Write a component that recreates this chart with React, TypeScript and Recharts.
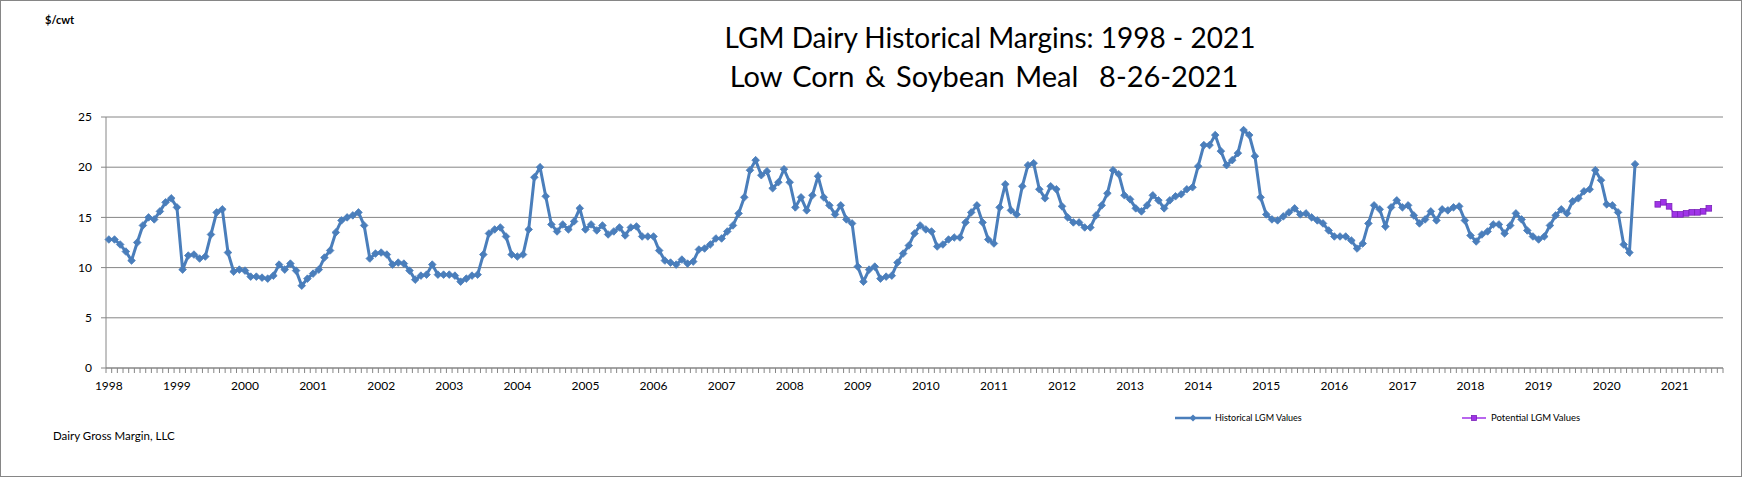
import React from "react";
import { ComposedChart, Line, XAxis, YAxis, CartesianGrid, Legend } from "recharts";

// ---------- data ----------
const startYear = 1998;
const monthCount = 285; // Jan 1998 .. Sep 2021
const yTicks = [0, 5, 10, 15, 20, 25];

// Historical LGM margin values ($/cwt), monthly from Jan 1998
const historicalValues = [
  // 1998
  12.8, 12.8, 12.3, 11.6, 10.7, 12.5, 14.2, 15.0, 14.8, 15.6, 16.5, 16.9,
  // 1999
  16.0, 9.8, 11.2, 11.3, 10.9, 11.1, 13.3, 15.5, 15.8, 11.5, 9.6, 9.8,
  // 2000
  9.7, 9.1, 9.1, 9.0, 8.9, 9.2, 10.3, 9.8, 10.4, 9.7, 8.2, 8.9,
  // 2001
  9.4, 9.8, 11.0, 11.7, 13.5, 14.7, 15.0, 15.2, 15.5, 14.2, 10.9, 11.4,
  // 2002
  11.5, 11.3, 10.3, 10.5, 10.4, 9.7, 8.8, 9.2, 9.3, 10.3, 9.3, 9.3,
  // 2003
  9.3, 9.2, 8.6, 8.9, 9.2, 9.3, 11.3, 13.4, 13.8, 14.0, 13.1, 11.3,
  // 2004
  11.1, 11.3, 13.8, 19.0, 20.0, 17.1, 14.3, 13.6, 14.3, 13.8, 14.6, 15.9,
  // 2005
  13.8, 14.3, 13.7, 14.2, 13.3, 13.6, 14.0, 13.2, 14.0, 14.1, 13.1, 13.1,
  // 2006
  13.1, 11.7, 10.7, 10.5, 10.3, 10.8, 10.4, 10.6, 11.8, 11.9, 12.3, 12.9,
  // 2007
  12.9, 13.6, 14.2, 15.4, 17.0, 19.7, 20.7, 19.2, 19.6, 17.9, 18.5, 19.8,
  // 2008
  18.5, 16.0, 17.0, 15.7, 17.2, 19.1, 17.0, 16.2, 15.3, 16.2, 14.8, 14.4,
  // 2009
  10.1, 8.6, 9.8, 10.1, 8.9, 9.1, 9.2, 10.5, 11.4, 12.2, 13.4, 14.2,
  // 2010
  13.8, 13.6, 12.1, 12.3, 12.8, 13.0, 13.0, 14.5, 15.5, 16.2, 14.5, 12.8,
  // 2011
  12.4, 16.0, 18.3, 15.7, 15.3, 18.1, 20.2, 20.4, 17.8, 16.9, 18.1, 17.8,
  // 2012
  16.1, 15.0, 14.5, 14.5, 14.0, 14.0, 15.2, 16.2, 17.4, 19.7, 19.3, 17.2,
  // 2013
  16.8, 15.9, 15.6, 16.2, 17.2, 16.7, 15.9, 16.7, 17.1, 17.3, 17.8, 18.0,
  // 2014
  20.1, 22.2, 22.2, 23.2, 21.6, 20.2, 20.7, 21.4, 23.7, 23.2, 21.1, 17.0,
  // 2015
  15.3, 14.8, 14.7, 15.1, 15.5, 15.9, 15.3, 15.4, 15.0, 14.7, 14.4, 13.7,
  // 2016
  13.1, 13.1, 13.1, 12.7, 11.9, 12.4, 14.4, 16.2, 15.8, 14.1, 16.0, 16.7,
  // 2017
  16.0, 16.2, 15.2, 14.4, 14.8, 15.6, 14.7, 15.8, 15.7, 16.0, 16.1, 14.7,
  // 2018
  13.2, 12.6, 13.3, 13.6, 14.3, 14.3, 13.4, 14.2, 15.4, 14.8, 13.7, 13.1,
  // 2019
  12.8, 13.1, 14.2, 15.2, 15.8, 15.4, 16.6, 16.9, 17.6, 17.8, 19.7, 18.7,
  // 2020 (Jan - Jun)
  16.3, 16.2, 15.5, 12.3, 11.5, 20.3,
];

// Potential LGM values, monthly from Oct 2020
const potentialStartIndex = 273; // Oct 2020
const potentialValues = [16.3, 16.5, 16.1, 15.3, 15.3, 15.4, 15.5, 15.5, 15.6, 15.9];

const chartData = Array.from({ length: monthCount }, (_, i) => ({
  idx: i,
  year: startYear + Math.floor(i / 12),
  hist: i < historicalValues.length ? historicalValues[i] : null,
  pot:
    i >= potentialStartIndex && i < potentialStartIndex + potentialValues.length
      ? potentialValues[i - potentialStartIndex]
      : null,
}));

// ---------- layout ----------
const W = 1742;
const H = 477;
const MARGIN = { top: 117, right: 19, bottom: 79, left: 46 };
const Y_AXIS_W = 60;
const X_AXIS_H = 30;
const PLOT_W = W - MARGIN.left - MARGIN.right - Y_AXIS_W;
const BAND = PLOT_W / monthCount;

const FONT = "Lato, 'Open Sans', 'DejaVu Sans', sans-serif";
const BLUE = "#4A7EBB";
const PURPLE = "#A033E8";
const PURPLE_EDGE = "#7A22B8";
const GRID = "#868686";

const Diamond = (props: any) => {
  const { cx, cy, index } = props;
  if (cx == null || cy == null) return <g key={`d${index}`} />;
  const r = 3.8;
  return (
    <polygon
      key={`d${index}`}
      points={`${cx},${cy - r} ${cx + r},${cy} ${cx},${cy + r} ${cx - r},${cy}`}
      fill={BLUE}
      stroke={BLUE}
      strokeWidth={0.8}
    />
  );
};

const Square = (props: any) => {
  const { cx, cy, index } = props;
  if (cx == null || cy == null) return <g key={`s${index}`} />;
  const r = 2.8;
  return (
    <rect
      key={`s${index}`}
      x={cx - r}
      y={cy - r}
      width={2 * r}
      height={2 * r}
      fill={PURPLE}
      stroke={PURPLE_EDGE}
      strokeWidth={0.8}
    />
  );
};

const XTick = (props: any) => {
  const { x, y, payload } = props;
  const i = payload.value as number;
  const left = x - BAND / 2;
  return (
    <g>
      <line x1={left} x2={left} y1={y} y2={y + 5} stroke={GRID} strokeWidth={1} />
      {i === monthCount - 1 && (
        <line x1={x + BAND / 2} x2={x + BAND / 2} y1={y} y2={y + 5} stroke={GRID} strokeWidth={1} />
      )}
      {i % 12 === 0 && (
        <text x={x} y={y + 22} textAnchor="middle" fontSize={12} fontFamily={FONT} fill="#000">
          {startYear + i / 12}
        </text>
      )}
    </g>
  );
};

const LegendContent = () => (
  <svg width={470} height={20}>
    <line x1={5} x2={41} y1={10} y2={10} stroke={BLUE} strokeWidth={2.5} />
    <polygon points="23,6.5 26.5,10 23,13.5 19.5,10" fill={BLUE} />
    <text x={45} y={13} fontSize={9} fontFamily={FONT} fill="#000">
      Historical LGM Values
    </text>
    <line x1={292} x2={316} y1={10} y2={10} stroke={PURPLE} strokeWidth={1.5} />
    <rect x={301.5} y={7.5} width={5} height={5} fill={PURPLE} stroke={PURPLE_EDGE} strokeWidth={0.8} />
    <text x={321} y={13} fontSize={9.5} fontFamily={FONT} fill="#000">
      Potential LGM Values
    </text>
  </svg>
);

export default function App() {
  return (
    <div
      style={{
        position: "absolute",
        left: 0,
        top: 0,
        width: W,
        height: H,
        background: "#fff",
        fontFamily: FONT,
        boxSizing: "border-box",
        border: `1px solid ${GRID}`,
        overflow: "hidden",
      }}
    >
      <div style={{ position: "absolute", left: 44, top: 12, fontSize: 11, fontWeight: 700, color: "#000" }}>
        $/cwt
      </div>
      <div
        style={{
          position: "absolute",
          left: 0,
          width: 1978,
          top: 20,
          textAlign: "center",
          fontSize: 28,
          lineHeight: "32px",
          color: "#000",
        }}
      >
        LGM Dairy Historical Margins: 1998 - 2021
      </div>
      <div
        style={{
          position: "absolute",
          left: 0,
          width: 1966,
          top: 59,
          textAlign: "center",
          fontSize: 29,
          lineHeight: "32px",
          color: "#000",
          whiteSpace: "pre",
          wordSpacing: 3,
        }}
      >
        {"Low Corn & Soybean Meal  8-26-2021"}
      </div>
      <div style={{ position: "absolute", left: 52, top: 428, fontSize: 11.5, color: "#000" }}>
        Dairy Gross Margin, LLC
      </div>
      <div style={{ position: "absolute", left: -1, top: -1 }}>
        <ComposedChart width={W} height={H} data={chartData} margin={MARGIN}>
          <CartesianGrid horizontal vertical={false} stroke={GRID} strokeWidth={1} />
          <XAxis
            dataKey="idx"
            type="category"
            scale="band"
            interval={0}
            height={X_AXIS_H}
            axisLine={{ stroke: GRID, strokeWidth: 1 }}
            tickLine={false}
            tickSize={0}
            tickMargin={0}
            tick={<XTick />}
          />
          <YAxis
            domain={[0, 25]}
            ticks={yTicks}
            width={Y_AXIS_W}
            axisLine={{ stroke: GRID, strokeWidth: 1 }}
            tickLine={{ stroke: GRID, strokeWidth: 1 }}
            tickSize={5}
            tickMargin={9}
            tick={{ fontSize: 12, fontFamily: FONT, fill: "#000" }}
            interval={0}
          />
          <Legend
            layout="horizontal"
            verticalAlign="middle"
            align="center"
            content={<LegendContent />}
            wrapperStyle={{ position: "absolute", left: 1170, top: 408, width: 470, height: 20 }}
          />
          <Line
            type="linear"
            dataKey="hist"
            name="Historical LGM Values"
            stroke={BLUE}
            strokeWidth={3}
            dot={<Diamond />}
            activeDot={false}
            isAnimationActive={false}
            connectNulls={false}
          />
          <Line
            type="linear"
            dataKey="pot"
            name="Potential LGM Values"
            stroke={PURPLE}
            strokeWidth={1.5}
            dot={<Square />}
            activeDot={false}
            isAnimationActive={false}
            connectNulls={false}
          />
        </ComposedChart>
      </div>
    </div>
  );
}
